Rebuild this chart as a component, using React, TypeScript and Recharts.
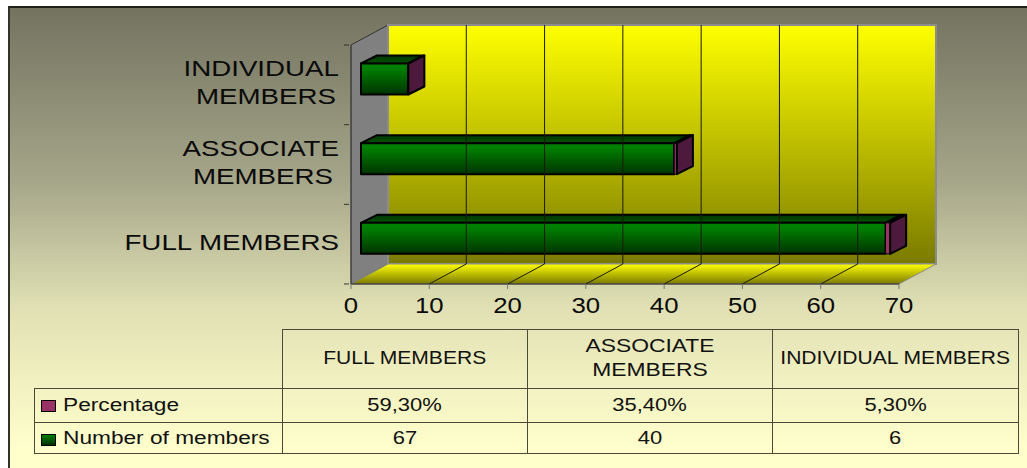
import { BarChart, Bar, XAxis, YAxis, ReferenceArea, ReferenceLine } from 'recharts'

const categories = ['INDIVIDUAL MEMBERS', 'ASSOCIATE MEMBERS', 'FULL MEMBERS']
const memberCounts = [6, 40, 67]
const percentages = [0.053, 0.354, 0.593]
const xTicks = [0, 10, 20, 30, 40, 50, 60, 70]
const gridTicks = [10, 20, 30, 40, 50, 60]

const tableColumns = ['FULL MEMBERS', 'ASSOCIATE MEMBERS', 'INDIVIDUAL MEMBERS']
const percentageLabels = ['59,30%', '35,40%', '5,30%']
const memberLabels = ['67', '40', '6']

const data = categories.map((name, i) => ({
  name,
  members: memberCounts[i],
  percentage: percentages[i],
}))

const FONT = '"Liberation Sans", Arial, sans-serif'
const WALL_DX = 37
const WALL_DY = 20
const BAR_DX = 10
const BAR_DY = -5.5
const BAR_DEPTH_X = 16
const BAR_DEPTH_Y = 8

// second line of the wrapped labels is centred under the first, not right aligned
const secondLineShift: Record<string, number> = {
  'INDIVIDUAL MEMBERS': -3,
  'ASSOCIATE MEMBERS': -6,
}

function Walls({ x, y, width, height }: any) {
  const right = x + width
  const bottom = y + height
  return (
    <g>
      <polygon
        points={`${x},${y} ${x + WALL_DX},${y - WALL_DY} ${x + WALL_DX},${bottom - WALL_DY} ${x},${bottom}`}
        fill="#808080"
        stroke="#333"
      />
      <rect
        x={x + WALL_DX}
        y={y - WALL_DY}
        width={width}
        height={height}
        fill="url(#wallFill)"
        stroke="#8c8c8c"
        strokeWidth={2}
      />
      <polygon
        points={`${x},${bottom} ${x + WALL_DX},${bottom - WALL_DY} ${right + WALL_DX},${bottom - WALL_DY} ${right},${bottom}`}
        fill="url(#floorFill)"
        stroke="#8c8c8c"
      />
    </g>
  )
}

function GridLine({ x1, y1, y2 }: any) {
  const top = Math.min(y1, y2)
  const bottom = Math.max(y1, y2)
  return (
    <g stroke="#1a1a00" strokeWidth={1}>
      <line x1={x1 + WALL_DX} x2={x1 + WALL_DX} y1={top - WALL_DY} y2={bottom - WALL_DY} />
      <line x1={x1} x2={x1 + WALL_DX} y1={bottom} y2={bottom - WALL_DY} />
    </g>
  )
}

function MembersBar({ x, y, width, height }: any) {
  const fx = x + BAR_DX
  const fy = y + BAR_DY
  return (
    <g stroke="#000" strokeWidth={2} strokeLinejoin="round">
      <polygon
        points={`${fx},${fy} ${fx + BAR_DEPTH_X},${fy - BAR_DEPTH_Y} ${fx + width + BAR_DEPTH_X},${fy - BAR_DEPTH_Y} ${fx + width},${fy}`}
        fill="url(#barTop)"
      />
      <rect x={fx} y={fy} width={width} height={height} fill="url(#barFront)" />
    </g>
  )
}

function PercentageBar({ x, y, width, height }: any) {
  const fx = x + BAR_DX
  const fy = y + BAR_DY
  const end = fx + width
  return (
    <g stroke="#000" strokeWidth={2} strokeLinejoin="round">
      <polygon
        points={`${fx},${fy} ${fx + BAR_DEPTH_X},${fy - BAR_DEPTH_Y} ${end + BAR_DEPTH_X},${fy - BAR_DEPTH_Y} ${end},${fy}`}
        fill="#4d1a3d"
      />
      <rect x={fx} y={fy} width={width} height={height} fill="#993366" strokeWidth={1} />
      <polygon
        points={`${end},${fy} ${end + BAR_DEPTH_X},${fy - BAR_DEPTH_Y} ${end + BAR_DEPTH_X},${fy - BAR_DEPTH_Y + height} ${end},${fy + height}`}
        fill="#4d1a3d"
      />
    </g>
  )
}

function CategoryTick({ x, y, payload, index }: any) {
  const words: string[] = payload.value.split(' ')
  const twoLines = payload.value !== 'FULL MEMBERS'
  const half = 39.8
  const label = (text: string, dx: number, dy: number) => (
    <text
      transform={`translate(${339 + dx},${y + dy}) scale(1.26,1)`}
      textAnchor="end"
      fontFamily={FONT}
      fontSize={22}
      fill="#0a0a0a"
    >
      {text}
    </text>
  )
  return (
    <g>
      <line x1={x + 1} x2={x + 6} y1={y - half} y2={y - half} stroke="#333" />
      {index === categories.length - 1 && (
        <line x1={x + 1} x2={x + 6} y1={y + half} y2={y + half} stroke="#333" />
      )}
      {twoLines ? (
        <>
          {label(words[0], 0, -9)}
          {label(words[1], secondLineShift[payload.value], 19)}
        </>
      ) : (
        label(payload.value, 0, 5.5)
      )}
    </g>
  )
}

function ValueTick({ x, payload }: any) {
  return (
    <text
      transform={`translate(${x},313) scale(1.17,1)`}
      textAnchor="middle"
      fontFamily={FONT}
      fontSize={22}
      fill="#0a0a0a"
    >
      {payload.value}
    </text>
  )
}

const stretched = (origin: string, amount = 1.17): React.CSSProperties => ({
  display: 'inline-block',
  transform: `scaleX(${amount})`,
  transformOrigin: origin,
})

const cell: React.CSSProperties = {
  border: '1px solid #4a4a38',
  textAlign: 'center',
  padding: 0,
  overflow: 'hidden',
}

function Swatch({ fill }: { fill: string }) {
  return (
    <span
      style={{
        position: 'absolute',
        left: 6,
        top: 11,
        width: 13,
        height: 10,
        border: '1px solid #000',
        background: fill,
      }}
    />
  )
}

function DataTable() {
  const rows = [
    { label: 'Percentage', values: percentageLabels, fill: '#993366', height: 34 },
    { label: 'Number of members', values: memberLabels, fill: 'linear-gradient(#008000,#003000)', height: 31 },
  ]
  return (
    <table
      style={{
        position: 'absolute',
        left: 34,
        top: 329,
        width: 984,
        height: 124,
        tableLayout: 'fixed',
        borderCollapse: 'collapse',
        fontFamily: FONT,
        fontSize: 18,
        color: '#111',
      }}
    >
      <colgroup>
        <col style={{ width: 248 }} />
        <col style={{ width: 245 }} />
        <col style={{ width: 245 }} />
        <col style={{ width: 246 }} />
      </colgroup>
      <tbody>
        <tr style={{ height: 59 }}>
          <td style={{ border: 'none' }} />
          {tableColumns.map((c) => (
            <td key={c} style={{ ...cell, lineHeight: '24px', paddingBottom: 3 }}>
              <span
                style={{
                  ...stretched('center', c === 'ASSOCIATE MEMBERS' ? 1.27 : 1.17),
                  maxWidth: c === 'ASSOCIATE MEMBERS' ? 130 : undefined,
                }}
              >
                {c}
              </span>
            </td>
          ))}
        </tr>
        {rows.map((row) => (
          <tr key={row.label} style={{ height: row.height }}>
            <td style={{ ...cell, textAlign: 'left', position: 'relative' }}>
              <Swatch fill={row.fill} />
              <span style={{ ...stretched('left', 1.26), marginLeft: 28, whiteSpace: 'nowrap' }}>{row.label}</span>
            </td>
            {row.values.map((v, i) => (
              <td key={i} style={cell}>
                <span style={stretched('center', 1.22)}>{v}</span>
              </td>
            ))}
          </tr>
        ))}
      </tbody>
    </table>
  )
}

export default function App() {
  return (
    <div style={{ position: 'absolute', left: 0, top: 0, width: 1027, height: 468, overflow: 'hidden', background: '#fff' }}>
      <div
        style={{
          position: 'absolute',
          left: 8,
          top: 6,
          right: 0,
          bottom: 0,
          boxSizing: 'border-box',
          borderLeft: '2px solid #33332a',
          borderTop: '2px solid #1f1f18',
          background: 'linear-gradient(180deg, #737360 0%, #a6a68a 38%, #e0e0b4 65%, #ffffcc 96%)',
        }}
      />
      <div style={{ position: 'absolute', left: 0, top: 0 }}>
        <BarChart
          width={1027}
          height={468}
          layout="vertical"
          data={data}
          barSize={31}
          margin={{ top: 45, right: 128, bottom: 0, left: 0 }}
          style={{ fontFamily: FONT }}
        >
          <defs>
            <linearGradient id="wallFill" x1="0" y1="0" x2="0" y2="1">
              <stop offset="0%" stopColor="#ffff00" />
              <stop offset="100%" stopColor="#7a7a00" />
            </linearGradient>
            <linearGradient id="floorFill" x1="0" y1="0" x2="0" y2="1">
              <stop offset="0%" stopColor="#ffff00" />
              <stop offset="100%" stopColor="#7a7a00" />
            </linearGradient>
            <linearGradient id="barFront" x1="0" y1="0" x2="0" y2="1">
              <stop offset="15%" stopColor="#008000" />
              <stop offset="100%" stopColor="#003300" />
            </linearGradient>
            <linearGradient id="barTop" x1="0" y1="0" x2="0" y2="1">
              <stop offset="0%" stopColor="#003300" />
              <stop offset="100%" stopColor="#005500" />
            </linearGradient>
          </defs>
          <ReferenceArea x1={0} x2={70} shape={<Walls />} ifOverflow="visible" />
          {gridTicks.map((t) => (
            <ReferenceLine
              key={t}
              x={t}
              ifOverflow="visible"
              shape={(props: any) => <GridLine {...props} />}
            />
          ))}
          <XAxis
            type="number"
            domain={[0, 70]}
            ticks={xTicks}
            height={184}
            interval={0}
            axisLine={{ stroke: '#222' }}
            tickLine={{ stroke: '#777' }}
            tickSize={5}
            tick={<ValueTick />}
          />
          <YAxis
            type="category"
            dataKey="name"
            width={351}
            interval={0}
            axisLine={{ stroke: '#444' }}
            tickLine={false}
            tick={<CategoryTick />}
          />
          <Bar dataKey="members" stackId="a" isAnimationActive={false} shape={<MembersBar />} />
          <Bar dataKey="percentage" stackId="a" isAnimationActive={false} shape={<PercentageBar />} />
        </BarChart>
      </div>
      <DataTable />
    </div>
  )
}
